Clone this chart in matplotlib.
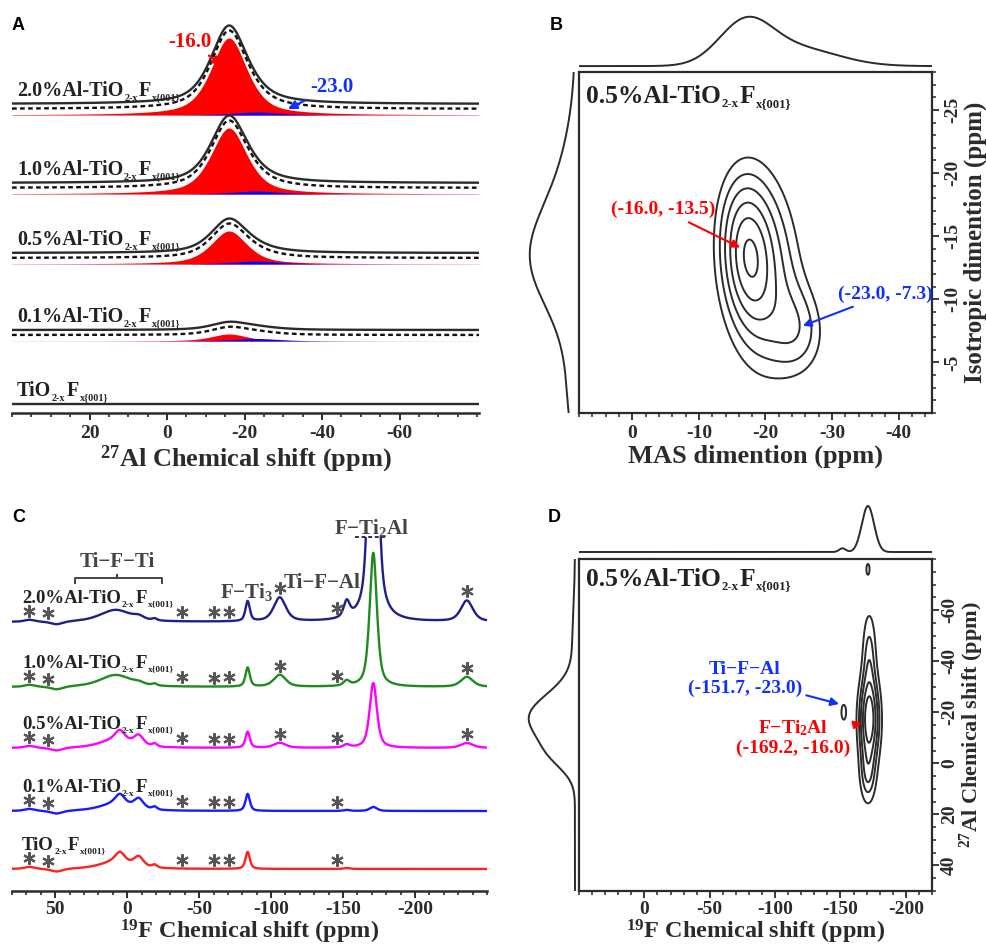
import numpy as np
import matplotlib
matplotlib.use('Agg')
import matplotlib.pyplot as plt
from matplotlib.ticker import MultipleLocator, FixedLocator

plt.rcParams['font.family'] = ['Liberation Serif', 'DejaVu Serif']
plt.rcParams['font.weight'] = 'bold'
plt.rcParams['axes.labelweight'] = 'bold'
plt.rcParams['mathtext.fontset'] = 'custom'
plt.rcParams['mathtext.rm'] = 'Liberation Serif:bold'
plt.rcParams['mathtext.it'] = 'Liberation Serif:bold'
plt.rcParams['mathtext.bf'] = 'Liberation Serif:bold'
plt.rcParams['mathtext.default'] = 'rm'
plt.rcParams['axes.unicode_minus'] = False

INK = '#2b2b2b'

# ---------------- data ----------------
# A: 27Al MAS, two fitted sites (ppm, peak height, half width)
a_prefix = ['2.0%Al-', '1.0%Al-', '0.5%Al-', '0.1%Al-', '']
a_oct_pos, a_oct_w = -16.0, 5.5
a_oct_h = [77, 66, 33, 7, 0]
a_pen_pos, a_pen_w = -23.0, 7.0
a_pen_h = [3, 3, 3, 2.5, 0]

# B: 27Al MQMAS contour components (MAS ppm, iso ppm, amp, sx, sy)
b_cx = [-17.5, -19.0, -25.0]
b_cy = [-13.5, -12.5, -7.5]
b_amp = [0.55, 0.5, 0.25]
b_sx = [2.2, 4.5, 3.0]
b_sy = [3.2, 6.0, 2.5]
b_levels = [0.2, 0.3, 0.42, 0.57, 0.75, 0.96]
b_top_c, b_top_h, b_top_s = [-17.0, -25.0], [0.85, 0.35], [4.0, 6.0]
b_left_c, b_left_h, b_left_s = [-13.2, -3.0, -20.0], [0.95, 0.15, 0.2], [4.0, 4.0, 4.0]

# C: 19F MAS, peak list shared by all samples
c_prefix = a_prefix
c_colors = ['#1f1f8a', '#1f8a1f', '#ff00ff', '#1a1aff', '#ff2020']
c_pos = [68, 49, 8, 5, -8, -19, -83.7, -106, -152.5, -171, -236]
c_wid = [4, 5, 13, 4, 4, 2, 1.8, 5, 2.5, 3.0, 5]
c_h = [
    [2, -3, 12, 0, 3, 2, 20, 24, 16, 420, 21],   # 2.0 %
    [2, -3, 12, 0, 2, 2, 19, 12, 5, 134, 10],    # 1.0 %
    [2, -3, 8, 10, 10, 3, 16, 5, 3, 65, 5],      # 0.5 %
    [2, -3, 7, 10, 10, 3, 17, 0, 1, 4, 0],       # 0.1 %
    [2, -3, 7, 10, 10, 3, 17, 0, 1, 0, 0],       # TiO2-xFx
]
c_stars = [
    [68, 55, -38, -60, -71, -106, -146, -236],
    [68, 55, -38, -60, -71, -106, -146, -236],
    [68, 55, -38, -60, -71, -106, -146, -236],
    [68, 55, -38, -60, -71, -146],
    [68, 55, -38, -60, -71, -146],
]

# D: 19F-27Al HETCOR contour components (F ppm, Al ppm, amp, sx, sy)
d_cx = [-172.0, -172.0, -171.0, -152.5, -171.0]
d_cy = [-17.0, -42.0, 4.0, -20.0, -76.0]
d_amp = [1.0, 0.35, 0.4, 0.22, 0.22]
d_sx = [5.0, 3.5, 4.0, 2.0, 1.3]
d_sy = [11.0, 12.0, 8.0, 3.3, 2.3]
d_levels = [0.15, 0.3, 0.45, 0.65, 0.85]
d_top_c, d_top_h, d_top_s = [-171.0, -151.5], [1.0, 0.08], [4.7, 2.5]
d_left_c, d_left_h, d_left_s = [-18.0, -3.0, -45.0], [1.0, 0.35, 0.06], [9.0, 6.0, 15.0]

# layout (pixel offsets of stacked traces)
a_base = [309, 230, 160, 83, 9]
c_base = [269, 204, 143, 80, 22]


def pv(x, c, h, w, eta=0.6):
    d = (x - c) / w
    return h * (eta / (1 + d ** 2) + (1 - eta) * np.exp(-np.log(2) * d ** 2))


def gsum(x, cs, hs, ss):
    return sum(h * np.exp(-0.5 * ((x - c) / s) ** 2) for c, h, s in zip(cs, hs, ss))


def field(X, Y, cx, cy, amp, sx, sy, shear=0.0):
    Z = np.zeros_like(X)
    for xc, yc, a, s1, s2 in zip(cx, cy, amp, sx, sy):
        u = (X - xc) - shear * (Y - yc)
        Z += a * np.exp(-0.5 * ((u / s1) ** 2 + ((Y - yc) / s2) ** 2))
    return Z


def chem_label(ax, x, y, prefix, size, transform=None):
    # "...TiO_{2-x}F_{x{001}}" with small subscripts
    kw = dict(color='#222', fontweight='bold', ha='left')
    tr = ax.transData if transform is None else transform
    t0 = ax.text(x, y, prefix + 'TiO', fontsize=size, va='baseline', transform=tr, **kw)
    t1 = ax.annotate('2-x', xy=(1, 0), xycoords=(t0, t0), xytext=(0.6, -1.2),
                     textcoords='offset points', fontsize=size * 0.5, va='bottom', **kw)
    t2 = ax.annotate('F', xy=(1, 0), xycoords=(t1, t0), xytext=(0.6, 0),
                     textcoords='offset points', fontsize=size, va='bottom', **kw)
    ax.annotate('x{001}', xy=(1, 0), xycoords=(t2, t0), xytext=(0.6, -1.2),
                textcoords='offset points', fontsize=size * 0.5, va='bottom', **kw)


W, H = 987, 947
fig = plt.figure(figsize=(W / 100, H / 100), dpi=100)


def add_px(l, t, r, b):
    return fig.add_axes([l / W, 1 - b / H, (r - l) / W, (b - t) / H])


def spec_axis(ax):
    for s in ['top', 'left', 'right']:
        ax.spines[s].set_visible(False)
    ax.spines['bottom'].set_linewidth(1.8)
    ax.spines['bottom'].set_color(INK)
    ax.set_yticks([])
    ax.tick_params(axis='x', which='major', direction='out', length=5, width=1.4,
                   labelsize=14, colors=INK)
    ax.tick_params(axis='x', which='minor', direction='out', length=3, width=1.2, colors=INK)


def box_axis(ax):
    for s in ax.spines.values():
        s.set_linewidth(1.6)
        s.set_color(INK)
    ax.yaxis.tick_right()
    ax.yaxis.set_label_position('right')
    ax.tick_params(which='major', direction='out', length=5, width=1.3, labelsize=14,
                   colors=INK, top=False, left=False)
    ax.tick_params(which='minor', direction='out', length=3, width=1.1, colors=INK,
                   top=False, left=False)
    for lab in ax.get_yticklabels():
        lab.set_rotation(90)
        lab.set_va('center')


# ---------------- A ----------------
axA = add_px(12, 15, 479, 413)
xA = np.linspace(40, -80.5, 1500)
for i, pre in enumerate(a_prefix):
    oc = pv(xA, a_oct_pos, a_oct_h[i], a_oct_w)
    pe = pv(xA, a_pen_pos, a_pen_h[i], a_pen_w)
    b = a_base[i]
    axA.plot(xA, b + oc + pe, color=INK, lw=1.7)
    if a_oct_h[i] > 0:
        axA.plot(xA, b - 5 + oc + pe, color='#111', lw=1.7, ls=(0, (2, 1.4)))
        axA.fill_between(xA, b - 11, b - 11 + oc, color='#ff0000', lw=0)
        axA.fill_between(xA, b - 11, b - 11 + pe, color='#0000ff', lw=0)
    chem_label(axA, 38.7, b + 8, pre, 14.5)
axA.set_xlim(40, -80.5)
axA.set_ylim(0, 398)
spec_axis(axA)
axA.xaxis.set_major_locator(FixedLocator([20, 0, -20, -40, -60]))
axA.xaxis.set_minor_locator(MultipleLocator(5))
axA.set_xlabel(r'$^{\mathrm{27}}$Al Chemical shift (ppm)', fontsize=19, color=INK, labelpad=1)
axA.annotate('-16.0', xy=(-14.2, 348), xytext=(-5.9, 371), color='red', fontsize=15,
             ha='center', va='center',
             arrowprops=dict(arrowstyle='-|>', color='red', lw=1.6, mutation_scale=13,
                             shrinkA=1, shrinkB=0))
axA.annotate('-23.0', xy=(-31.2, 304), xytext=(-42.5, 326), color='#1030ff', fontsize=15,
             ha='center', va='center',
             arrowprops=dict(arrowstyle='-|>', color='#1030ff', lw=1.6, mutation_scale=13,
                             shrinkA=1, shrinkB=0))

# ---------------- B ----------------
axB = add_px(579, 72, 932, 413)
xB = np.linspace(8, -45, 500)
yB = np.linspace(-1, -28, 500)
XB, YB = np.meshgrid(xB, yB)
ZB = field(XB, YB, b_cx, b_cy, b_amp, b_sx, b_sy, shear=-0.12)
axB.contour(XB, YB, ZB, levels=b_levels, colors=INK, linewidths=1.4)
axB.set_xlim(8, -45)
axB.set_ylim(-1, -28)
axB.xaxis.set_major_locator(FixedLocator([0, -10, -20, -30, -40]))
axB.xaxis.set_minor_locator(MultipleLocator(2))
axB.yaxis.set_major_locator(FixedLocator([-25, -20, -15, -10, -5]))
axB.yaxis.set_minor_locator(MultipleLocator(1))
box_axis(axB)
axB.set_xlabel('MAS dimention (ppm)', fontsize=19, color=INK, labelpad=2)
axB.set_ylabel('Isotropic dimention (ppm)', fontsize=18, color=INK, rotation=90, labelpad=2)
chem_label(axB, 0.02, 0.909, '0.5%Al-', 18.4, transform=axB.transAxes)
axB.annotate('(-16.0, -13.5)', xy=(-16.2, -14.1), xytext=(-4.6, -17.1), color='red',
             fontsize=14, ha='center', va='center',
             arrowprops=dict(arrowstyle='-|>', color='red', lw=1.5, mutation_scale=12,
                             shrinkA=2, shrinkB=0))
axB.annotate('(-23.0, -7.3)', xy=(-25.6, -7.9), xytext=(-38.0, -10.4), color='#1030ff',
             fontsize=14, ha='center', va='center',
             arrowprops=dict(arrowstyle='-|>', color='#1030ff', lw=1.5, mutation_scale=12,
                             shrinkA=2, shrinkB=0))

axBt = add_px(579, 12, 932, 72)
axBt.plot(xB, gsum(xB, b_top_c, b_top_h, b_top_s), color=INK, lw=1.4)
axBt.set_xlim(8, -45)
axBt.set_ylim(-0.12, 1.1)
axBt.axis('off')
axBl = add_px(525, 72, 578, 413)
axBl.plot(gsum(yB, b_left_c, b_left_h, b_left_s), yB, color=INK, lw=1.4)
axBl.set_xlim(1.111, -0.067)
axBl.set_ylim(-1, -28)
axBl.axis('off')

# ---------------- C ----------------
axC = add_px(12, 537, 487, 891)
xC = np.linspace(80, -250, 3000)
for i, pre in enumerate(c_prefix):
    y = c_base[i] + sum(pv(xC, c, h, w) for c, h, w in zip(c_pos, c_h[i], c_wid))
    axC.plot(xC, y, color=c_colors[i], lw=1.7)
    st = np.array(c_stars[i], dtype=float)
    sy = c_base[i] + sum(pv(st, c, h, w) for c, h, w in zip(c_pos, c_h[i], c_wid)) + 9
    axC.plot(st, sy, ls='none', marker=(6, 2, 0), ms=9, mew=1.5, color='#555555')
    chem_label(axC, 73, c_base[i] + 19, pre, 13.5)
axC.set_xlim(80, -250)
axC.set_ylim(0, 354)
spec_axis(axC)
axC.tick_params(axis='x', which='major', pad=2)
axC.xaxis.set_major_locator(FixedLocator([50, 0, -50, -100, -150, -200]))
axC.xaxis.set_minor_locator(MultipleLocator(10))
axC.set_xlabel(r'$^{\mathrm{19}}$F Chemical shift (ppm)', fontsize=17.5, color=INK, labelpad=0)
# peak assignments
axC.plot([36, 36, 7, 7, 7, -24, -24], [308, 313, 313, 316, 313, 313, 308],
         color='#444', lw=1.4, clip_on=False)
axC.text(7, 329, 'Ti−F−Ti', fontsize=15, ha='center', va='center', color='#444')
axC.text(-83.3, 299, 'F−Ti$_{\\mathrm{3}}$', fontsize=15, ha='center', va='center', color='#444')
axC.text(-135.4, 308, 'Ti−F−Al', fontsize=15, ha='center', va='center', color='#444')
axC.text(-169.5, 363, 'F−Ti$_{\\mathrm{2}}$Al', fontsize=15, ha='center', va='center', color='#444')
axC.plot([-158.4, -179.2], [354, 354], color='#333', lw=1.4, ls=(0, (2, 1.4)), clip_on=False)

# ---------------- D ----------------
axD = add_px(579, 559, 932, 891)
xD = np.linspace(50, -220, 900)
yD = np.linspace(50, -80, 900)
XD, YD = np.meshgrid(xD, yD)
ZD = field(XD, YD, d_cx, d_cy, d_amp, d_sx, d_sy)
axD.contour(XD, YD, ZD, levels=d_levels, colors=INK, linewidths=1.4)
axD.set_xlim(50, -220)
axD.set_ylim(50, -80)
axD.xaxis.set_major_locator(FixedLocator([0, -50, -100, -150, -200]))
axD.xaxis.set_minor_locator(MultipleLocator(10))
axD.yaxis.set_major_locator(FixedLocator([-60, -40, -20, 0, 20, 40]))
axD.yaxis.set_minor_locator(MultipleLocator(5))
box_axis(axD)
axD.tick_params(axis='x', which='major', pad=2)
axD.tick_params(axis='y', which='major', pad=1.5)
axD.set_xlabel(r'$^{\mathrm{19}}$F Chemical shift (ppm)', fontsize=17.5, color=INK, labelpad=0)
axD.set_ylabel(r'$^{\mathrm{27}}$Al Chemical shift (ppm)', fontsize=16, color=INK,
               rotation=90, labelpad=0)
chem_label(axD, 0.02, 0.919, '0.5%Al-', 18.4, transform=axD.transAxes)
axD.annotate('Ti−F−Al\n(-151.7, -23.0)', xy=(-152.0, -22.8), xytext=(-77.0, -33.0),
             color='#1030ff', fontsize=14, ha='center', va='center', linespacing=1.1,
             arrowprops=dict(arrowstyle='-|>', color='#1030ff', lw=1.5, mutation_scale=12,
                             shrinkA=1, shrinkB=3))
axD.annotate('F−Ti$_{\\mathrm{2}}$Al\n(-169.2, -16.0)', xy=(-166.5, -15.8),
             xytext=(-113.7, -10.0), color='red', fontsize=14, ha='center', va='center',
             linespacing=1.1,
             arrowprops=dict(arrowstyle='-|>', color='red', lw=1.5, mutation_scale=12,
                             shrinkA=1, shrinkB=0))

axDt = add_px(579, 500, 932, 558)
axDt.plot(xD, gsum(xD, d_top_c, d_top_h, d_top_s), color=INK, lw=1.4)
axDt.set_xlim(50, -220)
axDt.set_ylim(-0.1304, 1.130)
axDt.axis('off')
axDl = add_px(525, 559, 578, 891)
axDl.plot(gsum(yD, d_left_c, d_left_h, d_left_s), yD, color=INK, lw=1.4)
axDl.set_xlim(1.111, -0.067)
axDl.set_ylim(50, -80)
axDl.axis('off')

# panel letters
for letter, (px, py) in zip('ABCD', [(12, 25), (550, 25), (12, 517), (548, 518)]):
    fig.text(px / W, 1 - py / H, letter, fontsize=13, fontweight='bold',
             family='Liberation Sans', va='center', ha='left', color='black')

fig.savefig('out.png', dpi=100)
